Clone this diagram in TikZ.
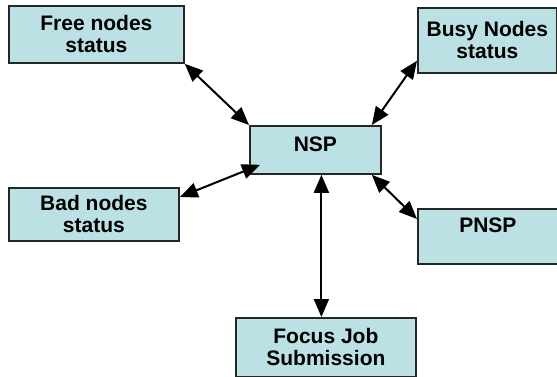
\documentclass[tikz,border=0pt]{standalone}
\usepackage{fontspec}
\setmainfont{Liberation Sans}
\usetikzlibrary{arrows.meta}
\definecolor{boxfill}{RGB}{187,225,228}
\tikzstyle{statusbox} = [draw=black!85, line width=1.8pt, fill=boxfill, align=center, inner sep=0pt, anchor=north west, font=\fontsize{21}{22}\selectfont\bfseries]
\tikzstyle{link} = [<->, line width=2pt, >={Triangle[length=18pt,width=15pt]}]

\begin{document}
\begin{tikzpicture}[x=1pt,y=-1pt]
		\useasboundingbox (0,0) rectangle (557,377);
		\node (free) [statusbox, minimum width=175pt, minimum height=57pt] at (8,5) {Free nodes\\status};
		\node (busy) [statusbox, minimum width=139pt, minimum height=65pt] at (417,7) {Busy Nodes\\status};
		\node (nsp) [statusbox, minimum width=131pt, text height=26pt, text depth=22pt] at (249,125) {NSP};
		\node (bad) [statusbox, minimum width=170pt, minimum height=53pt] at (8,187) {Bad nodes\\status};
		\node (pnsp) [statusbox, minimum width=140pt, text height=24pt, text depth=31pt] at (417,208) {PNSP};
		\node (focus) [statusbox, minimum width=180pt, minimum height=59pt] at (235,317) {Focus Job\\Submission};
		\draw [link] (free.south east) -- (nsp.north west);
		\draw [link] ([yshift=13pt]busy.south west) -- ([xshift=-10pt]nsp.north east);
		\draw [link] ([yshift=-10pt]bad.north east) -- ([xshift=11pt,yshift=10pt]nsp.south west);
		\draw [link] ([xshift=-10pt]nsp.south east) -- ([yshift=-11pt]pnsp.north west);
		\draw [link] ([xshift=6pt]nsp.south) -- ([xshift=6pt]nsp.south |- focus.north);
	\end{tikzpicture}
\end{document}
